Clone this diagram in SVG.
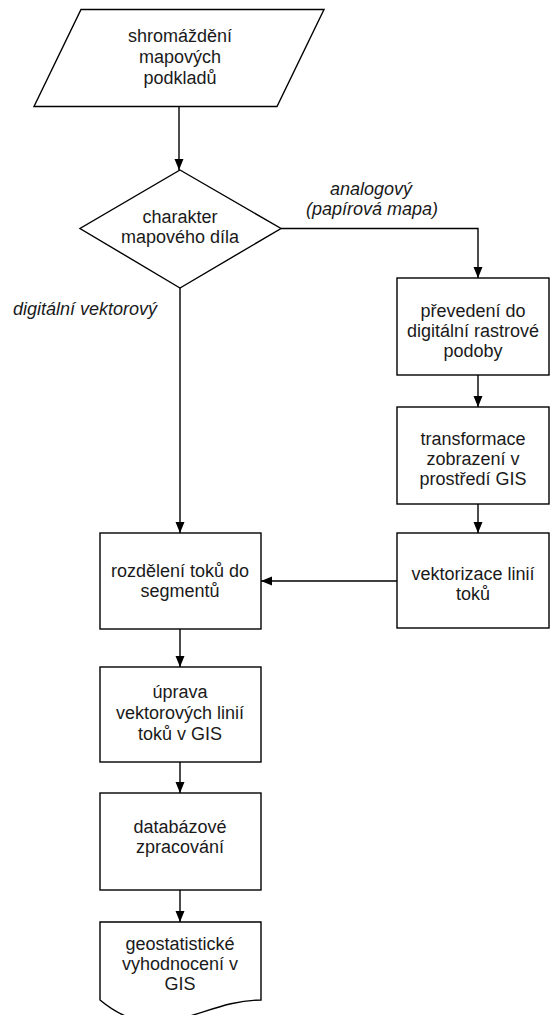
<svg xmlns="http://www.w3.org/2000/svg" width="550" height="1015" viewBox="0 0 550 1015">
<style>
.s{fill:#fff;stroke:#000;stroke-width:1.4}
.c{fill:none;stroke:#000;stroke-width:1.4}
text{font-family:"Liberation Sans",Arial,sans-serif;font-size:18px;fill:#1a1a1a;text-anchor:middle}
.i{font-style:italic}
</style>
<defs>
<marker id="a" markerUnits="userSpaceOnUse" markerWidth="12" markerHeight="12" viewBox="0 0 12 12" refX="11" refY="6" orient="auto">
<path d="M0,1.5 L11,6 L0,10.5 Z" fill="#000"/>
</marker>
</defs>
<g id="connectors">
<path class="c" d="M179,106.5 V170" marker-end="url(#a)"/>
<path class="c" d="M281,228.5 H478 V278" marker-end="url(#a)"/>
<path class="c" d="M180,288 V533" marker-end="url(#a)"/>
<path class="c" d="M478,375 V407" marker-end="url(#a)"/>
<path class="c" d="M478,504 V533" marker-end="url(#a)"/>
<path class="c" d="M397,581 H261" marker-end="url(#a)"/>
<path class="c" d="M180,629 V667" marker-end="url(#a)"/>
<path class="c" d="M180,762 V793" marker-end="url(#a)"/>
<path class="c" d="M180,890 V922" marker-end="url(#a)"/>
<text class="i" x="371" y="195">analogový</text>
<text class="i" x="372" y="215">(papírová mapa)</text>
<text class="i" x="85" y="315">digitální vektorový</text>
</g>
<g id="n1">
<polygon class="s" points="81,9.5 324,9.5 277,106.5 34,106.5"/>
<text x="180" y="42">shromáždění</text>
<text x="180" y="63">mapových</text>
<text x="180" y="84">podkladů</text>
</g>
<g id="n2">
<polygon class="s" points="180,170 281,228.5 180,288 80,228.5"/>
<text x="180" y="223">charakter</text>
<text x="180" y="243">mapového díla</text>
</g>
<g id="n3">
<rect class="s" x="397" y="278" width="152" height="97"/>
<text x="473" y="317">převedení do</text>
<text x="473" y="337">digitální rastrové</text>
<text x="473" y="357">podoby</text>
</g>
<g id="n4">
<rect class="s" x="397" y="407" width="152" height="97"/>
<text x="473" y="445">transformace</text>
<text x="473" y="465">zobrazení v</text>
<text x="473" y="485">prostředí GIS</text>
</g>
<g id="n5">
<rect class="s" x="397" y="533" width="152" height="95"/>
<text x="473" y="580">vektorizace linií</text>
<text x="473" y="600">toků</text>
</g>
<g id="n6">
<rect class="s" x="100" y="533" width="161" height="96"/>
<text x="180" y="577">rozdělení toků do</text>
<text x="180" y="597">segmentů</text>
</g>
<g id="n7">
<rect class="s" x="100" y="667" width="161" height="95"/>
<text x="180" y="698">úprava</text>
<text x="180" y="719">vektorových linií</text>
<text x="180" y="740">toků v GIS</text>
</g>
<g id="n8">
<rect class="s" x="100" y="793" width="161" height="97"/>
<text x="180" y="833">databázové</text>
<text x="180" y="853">zpracování</text>
</g>
<g id="n9">
<path class="s" d="M100,922 H261 V1000 C200,1000 160,1050 100,1000 Z"/>
<text x="180" y="950">geostatistické</text>
<text x="180" y="970">vyhodnocení v</text>
<text x="180" y="990">GIS</text>
</g>
</svg>
